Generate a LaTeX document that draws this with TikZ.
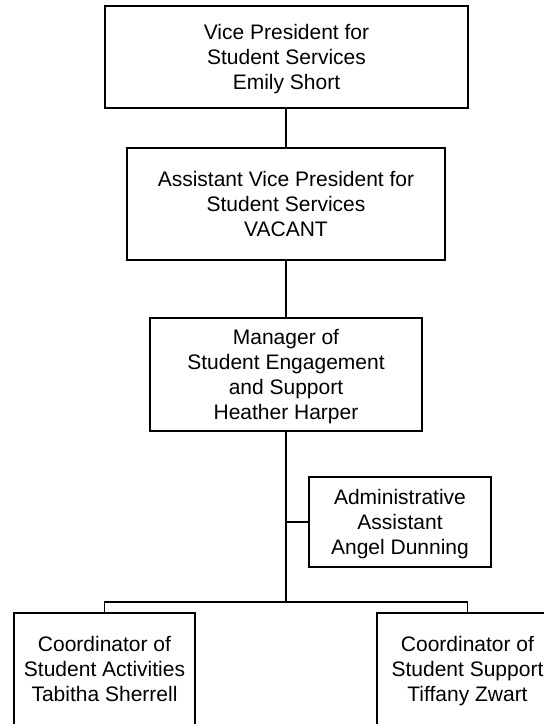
\documentclass[tikz,border=0pt]{standalone}
\usepackage{fontspec}
\setmainfont{Liberation Sans}
\begin{document}
\begin{tikzpicture}[x=1pt,y=1pt,
  orgbox/.style={draw=black, line width=1.6pt, fill=white, rectangle, inner sep=0pt,
    align=center, font=\fontsize{21}{25}\selectfont, anchor=center, text depth=0pt},
  link/.style={draw=black, line width=1.6pt}]
\useasboundingbox (0,0) rectangle (544,-724);
\clip (0,0) rectangle (544,-724);
\node[orgbox, minimum width=363, minimum height=102] (b1) at (286.5,-57)
  {Vice President for\\Student Services\\Emily Short};
\node[orgbox, minimum width=318, minimum height=112] (b2) at (286,-204)
  {Assistant Vice President for\\Student Services\\VACANT};
\node[orgbox, minimum width=272, minimum height=113] (b3) at (286,-374.5)
  {Manager of\\Student Engagement\\and Support\\Heather Harper};
\node[orgbox, minimum width=182, minimum height=90] (b4) at (400,-522)
  {Administrative\\Assistant\\Angel Dunning};
\node[orgbox, minimum width=181, minimum height=112] (b5) at (104.5,-669)
  {Coordinator of\\Student Activities\\Tabitha Sherrell};
\node[orgbox, minimum width=181, minimum height=112] (b6) at (467.5,-669)
  {Coordinator of\\Student Support\\Tiffany Zwart};
\coordinate (bus) at (286,-602);
\coordinate (tap) at (286,-522);
\coordinate (busL) at (104.5,-602);
\coordinate (busR) at (467.5,-602);
\draw[link] (b1.south -| b2.north) -- (b2.north);
\draw[link] (b2.south) -- (b3.north);
\draw[link] (b3.south) -- (bus);
\draw[link] (tap) -- (b4.west);
\draw[link] (b5.north) -- (busL) -- (busR) -- (b6.north);
\end{tikzpicture}
\end{document}
